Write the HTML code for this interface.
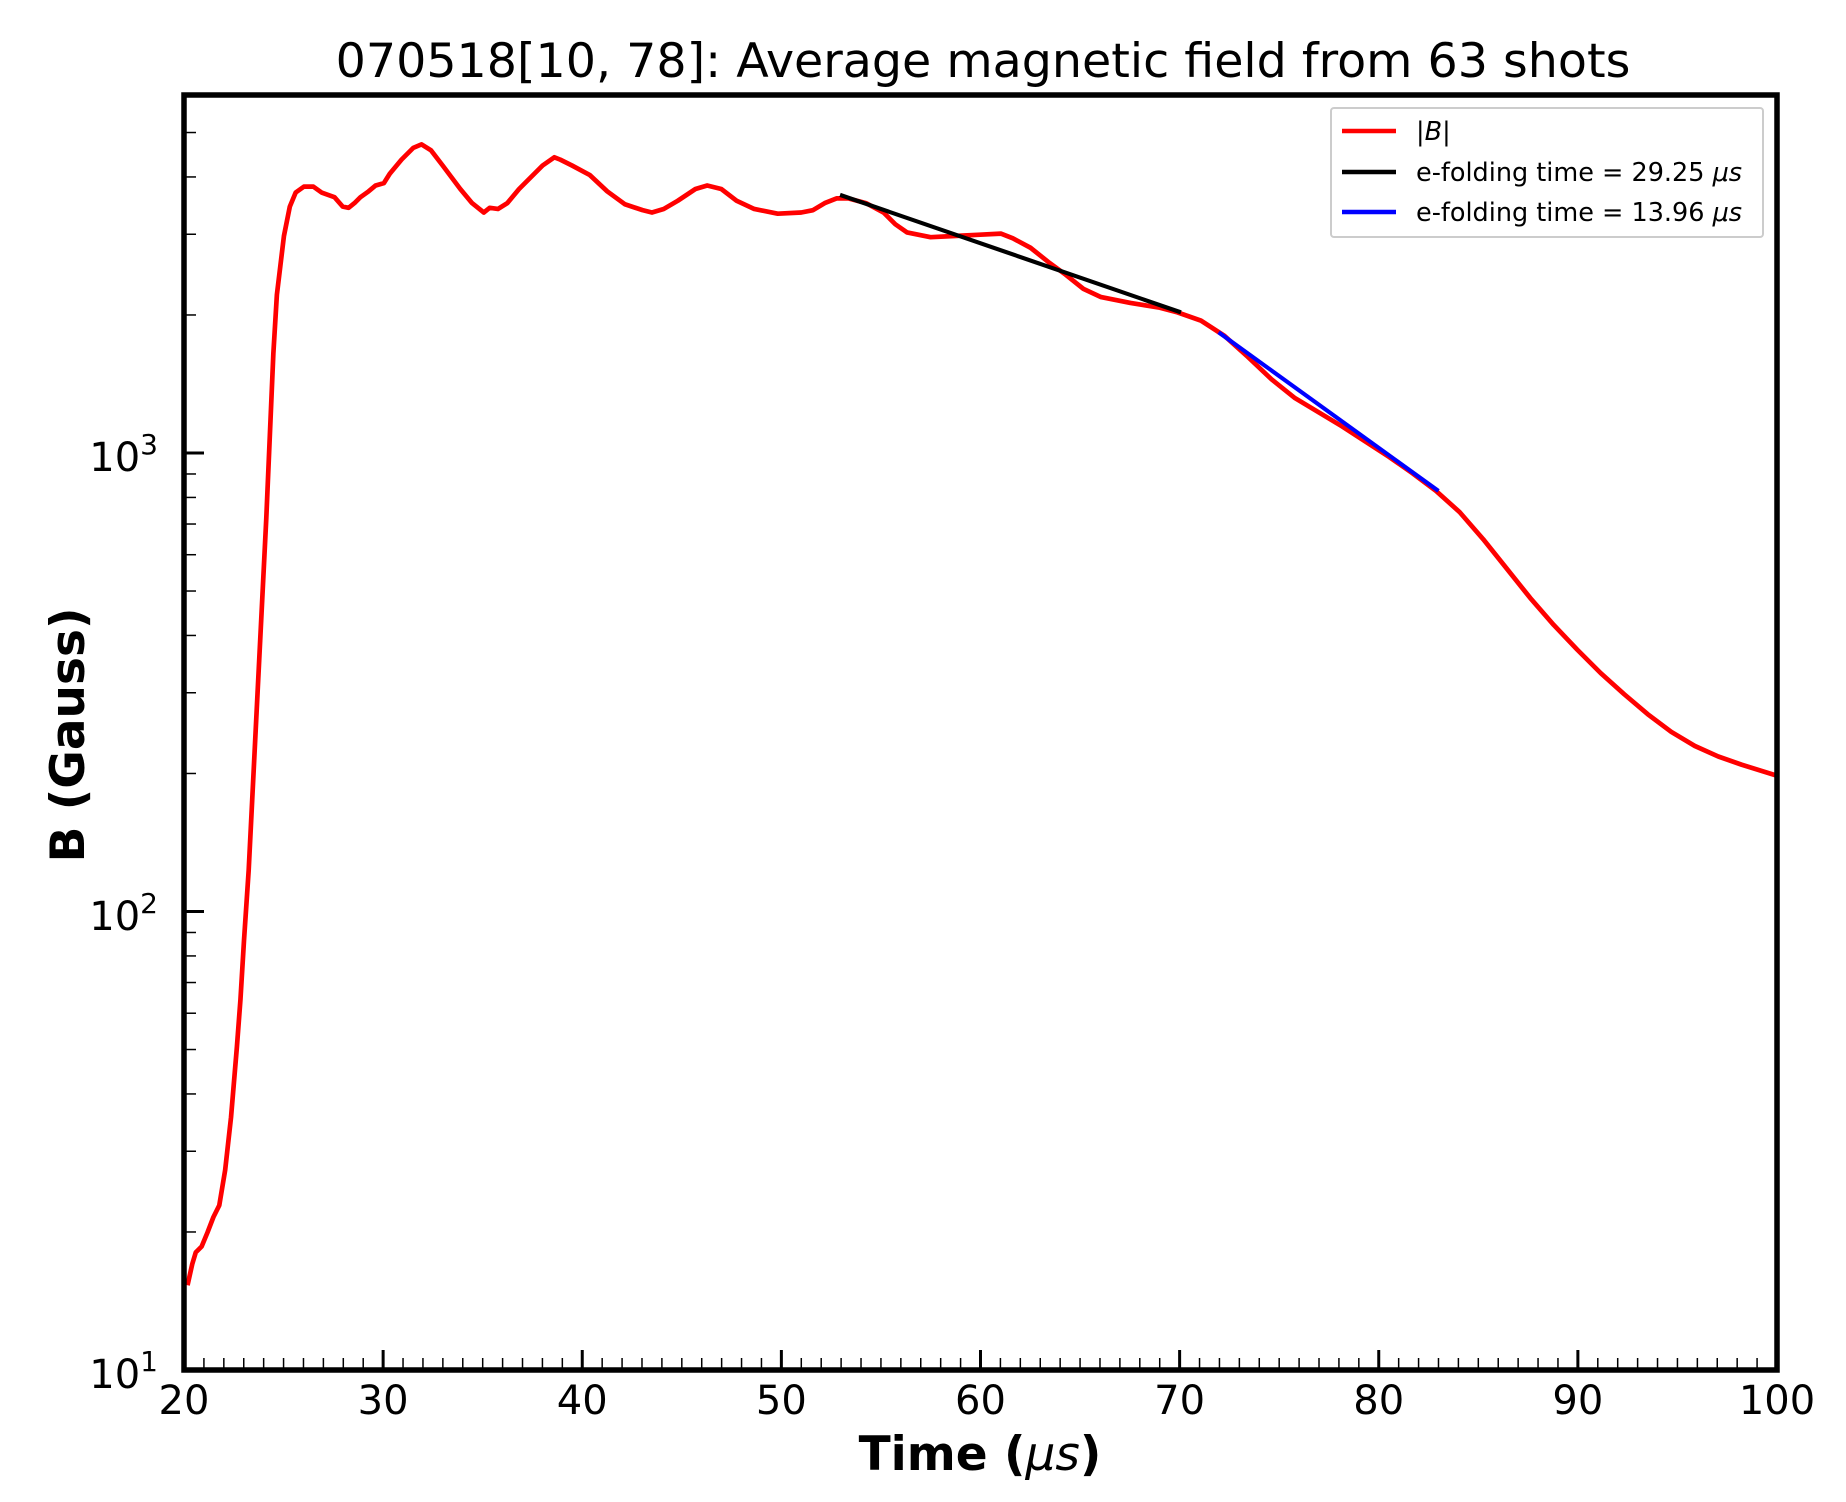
<!DOCTYPE html>
<html><head><meta charset="utf-8"><style>
body{margin:0;background:#fff}
svg{display:block;font-family:"DejaVu Sans","Liberation Sans",sans-serif}
</style></head><body>
<svg id="s" width="1846" height="1502" viewBox="0 0 1846 1502" xmlns="http://www.w3.org/2000/svg">
<rect width="1846" height="1502" fill="#fff"/>
<text x="983" y="77" font-size="47.5" text-anchor="middle">070518[10, 78]: Average magnetic field from 63 shots</text>
<g id="ticks" stroke="#000"></g>
<g transform="matrix(1.1757 0 0 1.175 1.77 1)" fill="none" stroke-linejoin="round" stroke-linecap="butt">
<polyline stroke="#f00" stroke-width="4" points="158,1093 162,1075 165,1065 170,1060 175,1048 180,1035 185,1025 190,995 195,950 200,890 203,850 206,800 210,740 213,680 216,620 219,560 222,500 225,440 228,370 231,300 234,250 237,225 240,200 245,175 250,163 257,158 265,158 272,163 283,167 290,175 295,176 300,172 305,167 312,162 318,157 325,155 330,147 340,135 350,125 357,122 365,127 375,140 390,160 400,172 410,180 415,176 422,177 430,172 440,160 450,150 460,140 470,133 475,135 485,140 500,148 515,162 530,173 545,178 553,180 563,177 575,170 590,160 600,157 612,160 625,170 640,177 660,181 680,180 690,178 700,172 710,168 720,168 735,172 750,180 760,190 770,197 790,201 810,200 830,199 850,198 860,202 875,210 890,222 905,233 920,245 935,252 960,257 985,261 1000,265 1020,272 1040,285 1060,303 1080,322 1100,338 1120,350 1140,362 1160,375 1180,388 1200,402 1220,417 1240,435 1260,458 1280,483 1300,508 1320,531 1340,552 1360,572 1380,590 1400,607 1420,622 1440,634 1460,643 1480,650 1509,659"/>
<line x1="713" y1="165" x2="1003" y2="265" stroke="#000" stroke-width="3.5"/>
<line x1="1035" y1="282" x2="1222" y2="417" stroke="#00f" stroke-width="3.5"/>
</g>
<rect x="184" y="95" width="1593" height="1275" fill="none" stroke="#000" stroke-width="5.5"/>
<rect x="1331" y="108" width="432" height="129" fill="#fff" fill-opacity="0.8" stroke="#ccc" stroke-width="2" rx="3"/>
<g font-size="25.5">
<line x1="1342" y1="131" x2="1396" y2="131" stroke="#f00" stroke-width="4.5"/>
<text x="1416" y="140" font-style="italic">|B|</text>
<line x1="1342" y1="172" x2="1396" y2="172" stroke="#000" stroke-width="4.5"/>
<text x="1416" y="181">e-folding time = 29.25 <tspan font-style="italic">μs</tspan></text>
<line x1="1342" y1="212" x2="1396" y2="212" stroke="#00f" stroke-width="4.5"/>
<text x="1416" y="221">e-folding time = 13.96 <tspan font-style="italic">μs</tspan></text>
</g>
<g font-size="40" text-anchor="middle" id="xl"></g>
<g font-size="40" text-anchor="end">
<text x="158" y="1388">10<tspan font-size="28" dy="-17">1</tspan></text>
<text x="158" y="930">10<tspan font-size="28" dy="-17">2</tspan></text>
<text x="158" y="471">10<tspan font-size="28" dy="-17">3</tspan></text>
</g>
<text x="980" y="1470" font-size="47" font-weight="bold" text-anchor="middle">Time (<tspan font-style="italic" font-weight="normal">μs</tspan>)</text>
<text transform="translate(84 735) rotate(-90)" font-size="47" font-weight="bold" text-anchor="middle">B (Gauss)</text>
</svg>
<script>
var g=document.getElementById('ticks'),xl=document.getElementById('xl'),h='',t='';
function X(v){return 184+(v-20)*19.9125}
function Y(v){return 1370-(Math.log10(v)-1)*458.5}
for(var v=20;v<=100;v++){var x=X(v),m=v%10==0;
 if(v>20&&v<100)h+='<line x1="'+x+'" x2="'+x+'" y1="1370" y2="'+(1370-(m?20:12))+'" stroke-width="'+(m?3:1.5)+'"/>';
 if(m)t+='<text x="'+x+'" y="1414">'+v+'</text>';}
for(var d=10;d<=1000;d*=10)for(var k=1;k<10;k++){var val=d*k,y=Y(val);if(y<97)continue;if(val==10)continue;var m=k==1;
 h+='<line x1="184" x2="'+(184+(m?20:12))+'" y1="'+y+'" y2="'+y+'" stroke-width="'+(m?3:1.5)+'"/>';}
g.innerHTML=h;xl.innerHTML=t;
</script>
</body></html>
